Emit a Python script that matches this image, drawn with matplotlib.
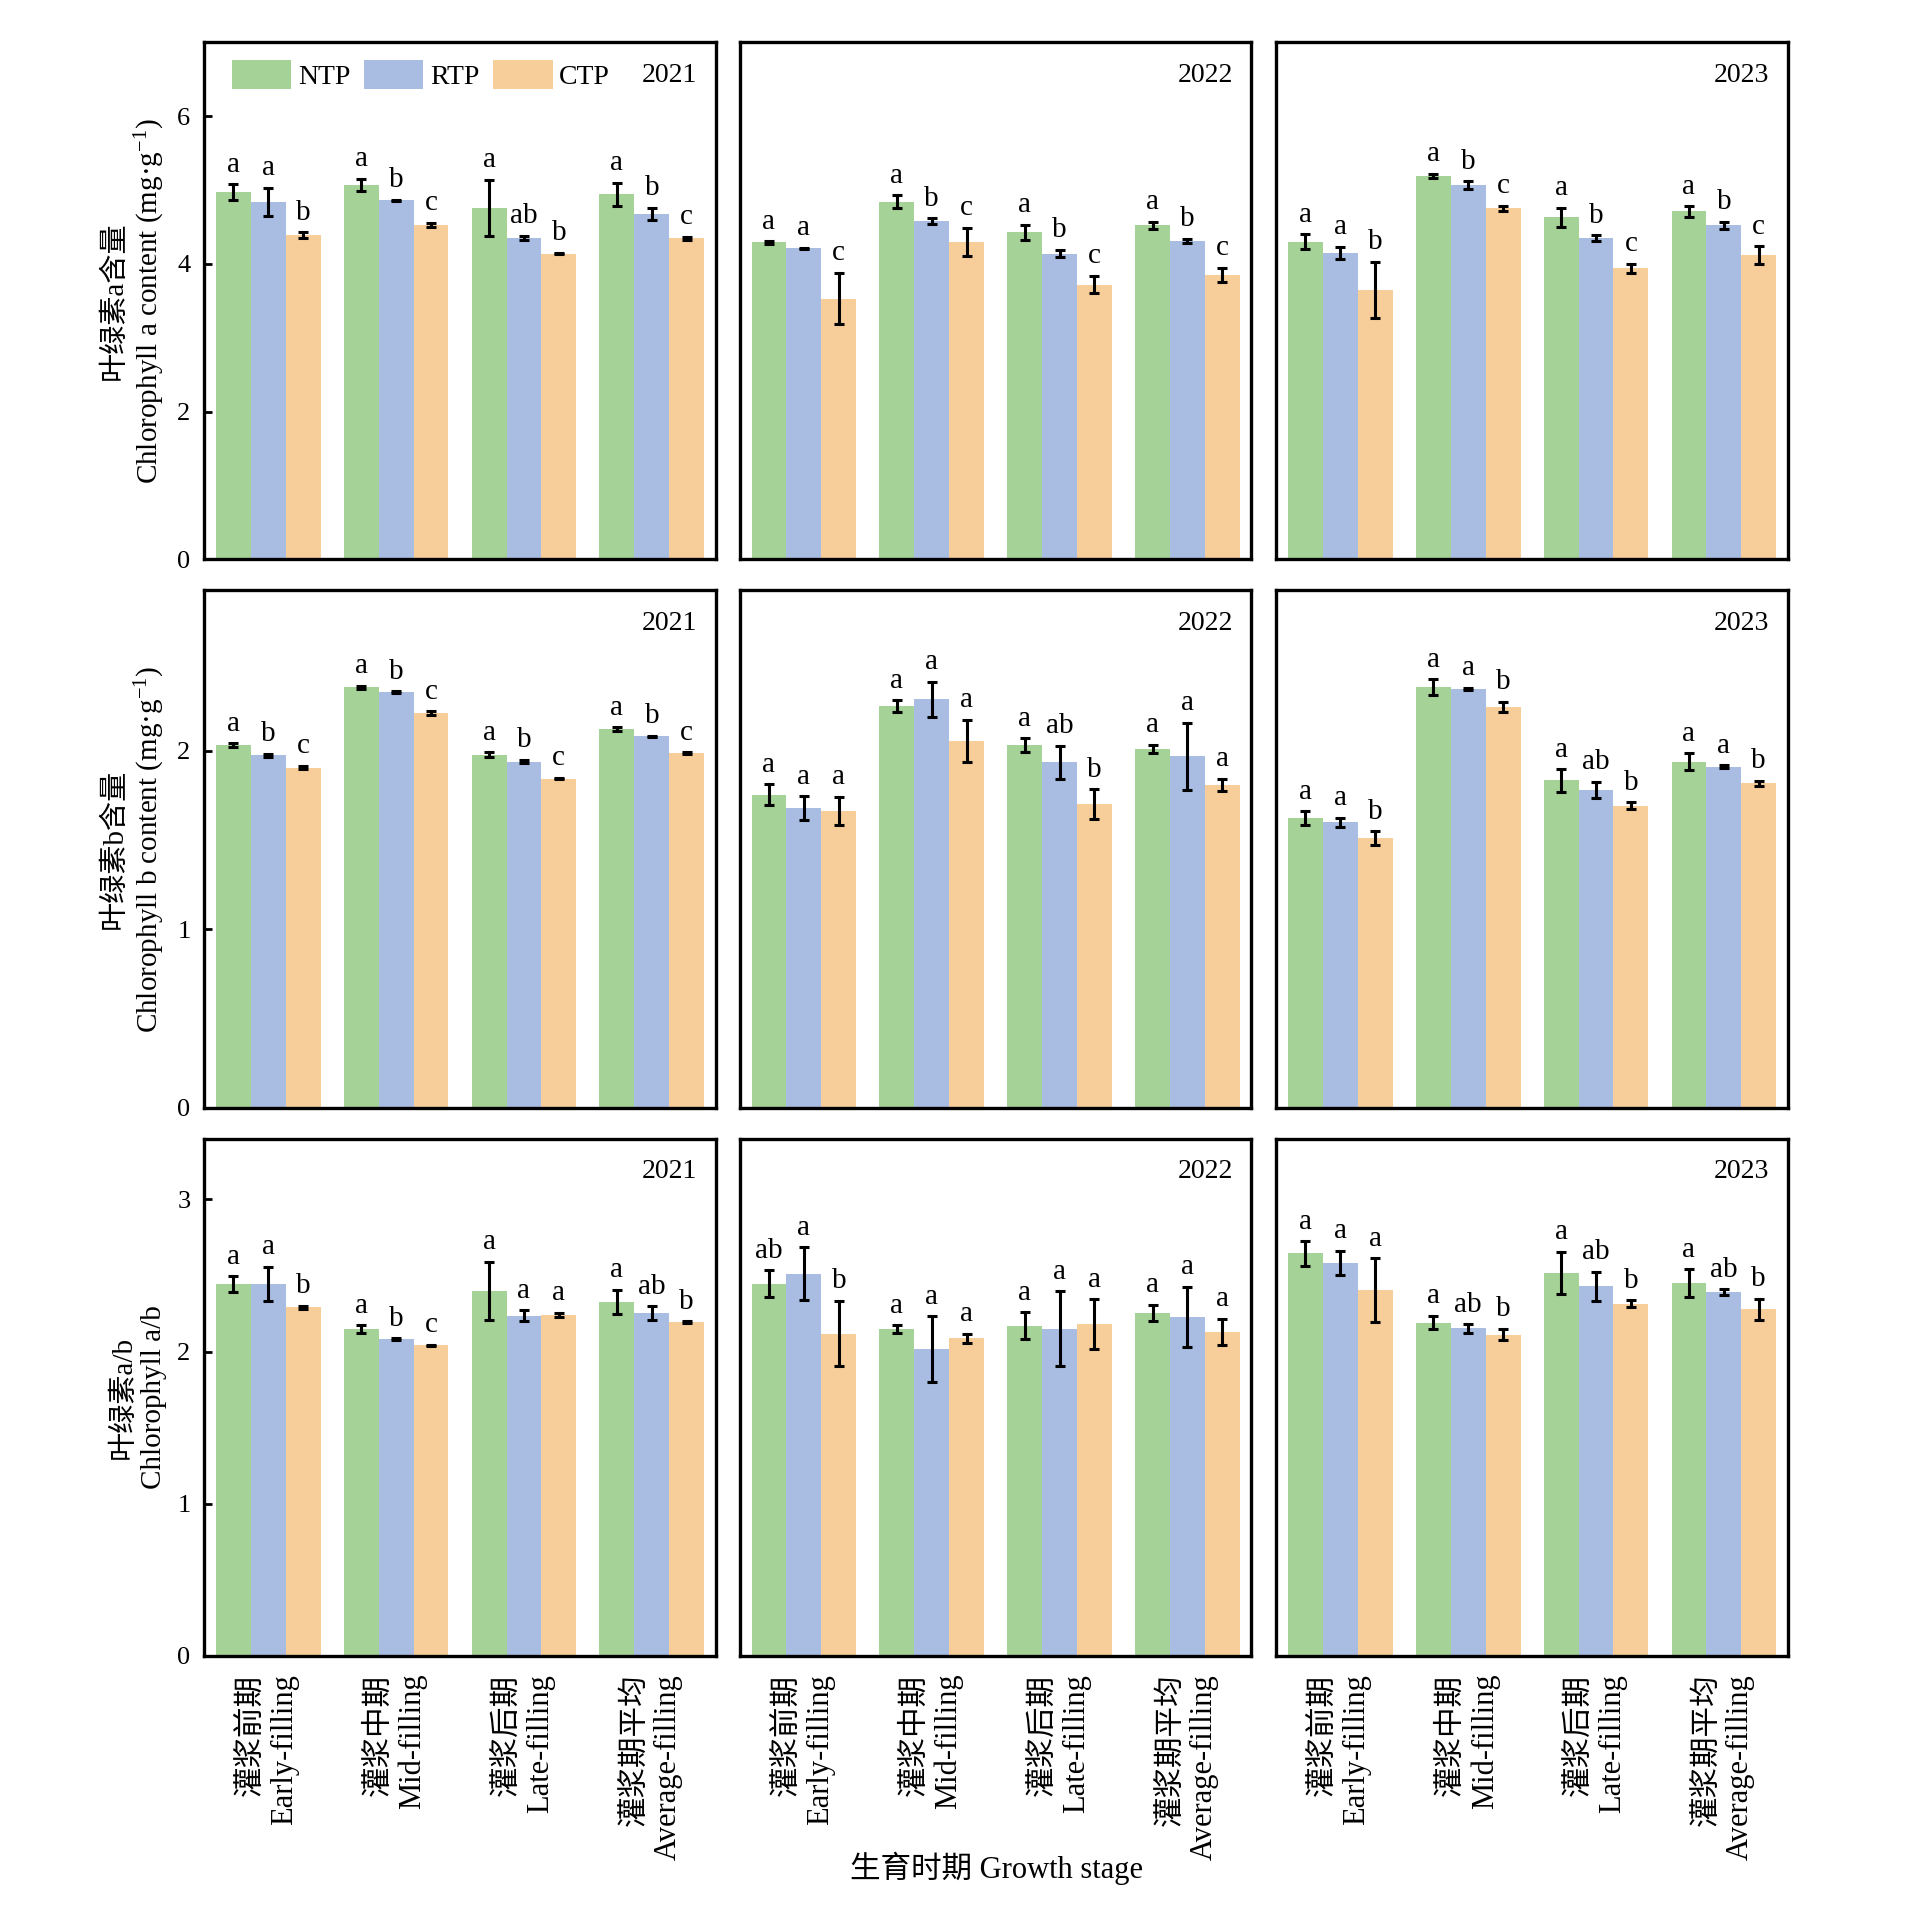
import matplotlib
matplotlib.use('Agg')
import matplotlib.pyplot as plt
import numpy as np
from matplotlib.patches import Patch

plt.rcParams['font.family'] = ['Liberation Serif', 'Noto Sans CJK SC']
plt.rcParams['mathtext.fontset'] = 'custom'
plt.rcParams['mathtext.rm'] = 'Liberation Serif'
plt.rcParams['mathtext.it'] = 'Liberation Serif:italic'
plt.rcParams['mathtext.bf'] = 'Liberation Serif:bold'

# ---------------- data ----------------
stages_cn = ['灌浆前期', '灌浆中期', '灌浆后期', '灌浆期平均']
stages_en = ['Early-filling', 'Mid-filling', 'Late-filling', 'Average-filling']
treatments = ['NTP', 'RTP', 'CTP']
years = ['2021', '2022', '2023']
colors = ['#A5D296', '#A9BCE2', '#F7CE99']

# Chlorophyll a content (mg/g)
chla_2021_ntp = [4.97, 5.07, 4.76, 4.94]
chla_2021_ntp_err = [0.11, 0.08, 0.38, 0.16]
chla_2021_rtp = [4.84, 4.86, 4.35, 4.68]
chla_2021_rtp_err = [0.19, 0.01, 0.03, 0.08]
chla_2021_ctp = [4.39, 4.53, 4.14, 4.35]
chla_2021_ctp_err = [0.04, 0.03, 0.01, 0.02]
chla_2021_letters = [['a', 'a', 'a', 'a'], ['a', 'b', 'ab', 'b'], ['b', 'c', 'b', 'c']]

chla_2022_ntp = [4.29, 4.84, 4.43, 4.52]
chla_2022_ntp_err = [0.02, 0.09, 0.10, 0.05]
chla_2022_rtp = [4.21, 4.58, 4.14, 4.31]
chla_2022_rtp_err = [0.01, 0.04, 0.05, 0.03]
chla_2022_ctp = [3.53, 4.30, 3.72, 3.85]
chla_2022_ctp_err = [0.35, 0.19, 0.12, 0.10]
chla_2022_letters = [['a', 'a', 'a', 'a'], ['a', 'b', 'b', 'b'], ['c', 'c', 'c', 'c']]

chla_2023_ntp = [4.30, 5.19, 4.63, 4.71]
chla_2023_ntp_err = [0.10, 0.03, 0.13, 0.07]
chla_2023_rtp = [4.15, 5.07, 4.35, 4.52]
chla_2023_rtp_err = [0.08, 0.05, 0.04, 0.05]
chla_2023_ctp = [3.65, 4.75, 3.94, 4.12]
chla_2023_ctp_err = [0.38, 0.04, 0.06, 0.12]
chla_2023_letters = [['a', 'a', 'a', 'a'], ['a', 'b', 'b', 'b'], ['b', 'c', 'c', 'c']]

# Chlorophyll b content (mg/g)
chlb_2021_ntp = [2.033, 2.358, 1.980, 2.124]
chlb_2021_ntp_err = [0.010, 0.008, 0.012, 0.010]
chlb_2021_rtp = [1.975, 2.330, 1.940, 2.081]
chlb_2021_rtp_err = [0.010, 0.005, 0.010, 0.005]
chlb_2021_ctp = [1.907, 2.211, 1.845, 1.988]
chlb_2021_ctp_err = [0.010, 0.012, 0.005, 0.006]
chlb_2021_letters = [['a', 'a', 'a', 'a'], ['b', 'b', 'b', 'b'], ['c', 'c', 'c', 'c']]

chlb_2022_ntp = [1.754, 2.252, 2.031, 2.012]
chlb_2022_ntp_err = [0.058, 0.032, 0.039, 0.024]
chlb_2022_rtp = [1.678, 2.289, 1.936, 1.969]
chlb_2022_rtp_err = [0.067, 0.100, 0.093, 0.189]
chlb_2022_ctp = [1.665, 2.056, 1.702, 1.808]
chlb_2022_ctp_err = [0.078, 0.118, 0.083, 0.035]
chlb_2022_letters = [['a', 'a', 'a', 'a'], ['a', 'a', 'ab', 'a'], ['a', 'a', 'b', 'a']]

chlb_2023_ntp = [1.622, 2.358, 1.835, 1.940]
chlb_2023_ntp_err = [0.040, 0.045, 0.063, 0.047]
chlb_2023_rtp = [1.599, 2.347, 1.781, 1.911]
chlb_2023_rtp_err = [0.025, 0.008, 0.045, 0.008]
chlb_2023_ctp = [1.513, 2.246, 1.692, 1.818]
chlb_2023_ctp_err = [0.038, 0.030, 0.020, 0.016]
chlb_2023_letters = [['a', 'a', 'a', 'a'], ['a', 'a', 'ab', 'a'], ['b', 'b', 'b', 'b']]

# Chlorophyll a/b
ratio_2021_ntp = [2.442, 2.146, 2.399, 2.327]
ratio_2021_ntp_err = [0.053, 0.027, 0.193, 0.079]
ratio_2021_rtp = [2.444, 2.082, 2.234, 2.252]
ratio_2021_rtp_err = [0.114, 0.005, 0.036, 0.045]
ratio_2021_ctp = [2.290, 2.042, 2.241, 2.193]
ratio_2021_ctp_err = [0.010, 0.004, 0.015, 0.007]
ratio_2021_letters = [['a', 'a', 'a', 'a'], ['a', 'b', 'a', 'ab'], ['b', 'c', 'a', 'b']]

ratio_2022_ntp = [2.446, 2.148, 2.171, 2.254]
ratio_2022_ntp_err = [0.089, 0.026, 0.086, 0.053]
ratio_2022_rtp = [2.512, 2.017, 2.150, 2.227]
ratio_2022_rtp_err = [0.175, 0.216, 0.248, 0.200]
ratio_2022_ctp = [2.118, 2.087, 2.180, 2.128]
ratio_2022_ctp_err = [0.216, 0.030, 0.164, 0.088]
ratio_2022_letters = [['ab', 'a', 'a', 'a'], ['a', 'a', 'a', 'a'], ['b', 'a', 'a', 'a']]

ratio_2023_ntp = [2.645, 2.191, 2.516, 2.451]
ratio_2023_ntp_err = [0.081, 0.043, 0.140, 0.090]
ratio_2023_rtp = [2.584, 2.152, 2.430, 2.390]
ratio_2023_rtp_err = [0.079, 0.027, 0.095, 0.020]
ratio_2023_ctp = [2.403, 2.112, 2.315, 2.277]
ratio_2023_ctp_err = [0.209, 0.037, 0.021, 0.069]
ratio_2023_letters = [['a', 'a', 'a', 'a'], ['a', 'ab', 'ab', 'ab'], ['a', 'b', 'b', 'b']]

ylabels = ['叶绿素a含量\nChlorophyll a content (mg·g$^{-1}$)',
           '叶绿素b含量\nChlorophyll b content (mg·g$^{-1}$)',
           '叶绿素a/b\nChlorophyll a/b']
ylims = [7.0, 2.9, 3.4]
yticks = [[0, 2, 4, 6], [0, 1, 2], [0, 1, 2, 3]]
xlabel = '生育时期 Growth stage'

panels = [
    [(chla_2021_ntp, chla_2021_rtp, chla_2021_ctp, chla_2021_ntp_err, chla_2021_rtp_err, chla_2021_ctp_err, chla_2021_letters),
     (chla_2022_ntp, chla_2022_rtp, chla_2022_ctp, chla_2022_ntp_err, chla_2022_rtp_err, chla_2022_ctp_err, chla_2022_letters),
     (chla_2023_ntp, chla_2023_rtp, chla_2023_ctp, chla_2023_ntp_err, chla_2023_rtp_err, chla_2023_ctp_err, chla_2023_letters)],
    [(chlb_2021_ntp, chlb_2021_rtp, chlb_2021_ctp, chlb_2021_ntp_err, chlb_2021_rtp_err, chlb_2021_ctp_err, chlb_2021_letters),
     (chlb_2022_ntp, chlb_2022_rtp, chlb_2022_ctp, chlb_2022_ntp_err, chlb_2022_rtp_err, chlb_2022_ctp_err, chlb_2022_letters),
     (chlb_2023_ntp, chlb_2023_rtp, chlb_2023_ctp, chlb_2023_ntp_err, chlb_2023_rtp_err, chlb_2023_ctp_err, chlb_2023_letters)],
    [(ratio_2021_ntp, ratio_2021_rtp, ratio_2021_ctp, ratio_2021_ntp_err, ratio_2021_rtp_err, ratio_2021_ctp_err, ratio_2021_letters),
     (ratio_2022_ntp, ratio_2022_rtp, ratio_2022_ctp, ratio_2022_ntp_err, ratio_2022_rtp_err, ratio_2022_ctp_err, ratio_2022_letters),
     (ratio_2023_ntp, ratio_2023_rtp, ratio_2023_ctp, ratio_2023_ntp_err, ratio_2023_rtp_err, ratio_2023_ctp_err, ratio_2023_letters)],
]

# ---------------- figure ----------------
fig = plt.figure(figsize=(9.62, 9.56), dpi=200)
lefts = [0.1062, 0.3846, 0.6634]
bottoms = [0.7074, 0.4207, 0.1340]
aw, ah = 0.2658, 0.2705
bw = 0.273
x = np.arange(len(stages_en))

for r in range(3):
    for c in range(3):
        ax = fig.add_axes([lefts[c], bottoms[r], aw, ah])
        ntp, rtp, ctp, e1, e2, e3, letters = panels[r][c]
        series = [ntp, rtp, ctp]
        errs = [e1, e2, e3]
        for i in range(3):
            xs = x + (i - 1) * bw
            ax.bar(xs, series[i], bw, color=colors[i], zorder=2, linewidth=0)
            ax.errorbar(xs, series[i], yerr=errs[i], fmt='none', ecolor='black',
                        elinewidth=1.1, capsize=1.75, capthick=1.1, zorder=3)
            for j in range(len(x)):
                ax.annotate(letters[i][j], (xs[j], series[i][j] + errs[i][j]),
                            xytext=(0, 4.5), textcoords='offset points',
                            ha='center', va='baseline', fontsize=10.5, zorder=4)
        ax.set_xlim(-0.5, 3.5)
        ax.set_ylim(0, ylims[r])
        for sp in ax.spines.values():
            sp.set_linewidth(1.2)
            sp.set_color('black')
        if c == 0:
            ax.set_yticks(yticks[r])
            ax.tick_params(axis='y', direction='in', length=3, width=1, pad=5, labelsize=9.5)
            ax.set_ylabel(ylabels[r], fontsize=10.5, multialignment='center')
            ax.yaxis.set_label_coords(-0.073, 0.5)
        else:
            ax.set_yticks([])
        if r == 2:
            ax.set_xticks(x)
            ax.set_xticklabels([f'{cn}\n{en}' for cn, en in zip(stages_cn, stages_en)],
                               rotation=90, fontsize=11)
            for lbl in ax.get_xticklabels():
                lbl.set_multialignment('right')
            ax.tick_params(axis='x', length=0, pad=6.5)
        else:
            ax.set_xticks([])
        ax.text(0.964, 0.936, years[c], transform=ax.transAxes, ha='right', va='center', fontsize=10)
        if r == 0 and c == 0:
            handles = [Patch(facecolor=colors[i], label=treatments[i]) for i in range(3)]
            ax.legend(handles=handles, ncol=3, loc='upper left', bbox_to_anchor=(0.054, 0.966),
                      frameon=False, fontsize=10, handlelength=2.14, handleheight=1.22,
                      handletextpad=0.23, columnspacing=0.5, borderaxespad=0, borderpad=0)

fig.text(0.5177, 0.023, xlabel, ha='center', va='center', fontsize=11)
fig.savefig('out.png', dpi=200)
